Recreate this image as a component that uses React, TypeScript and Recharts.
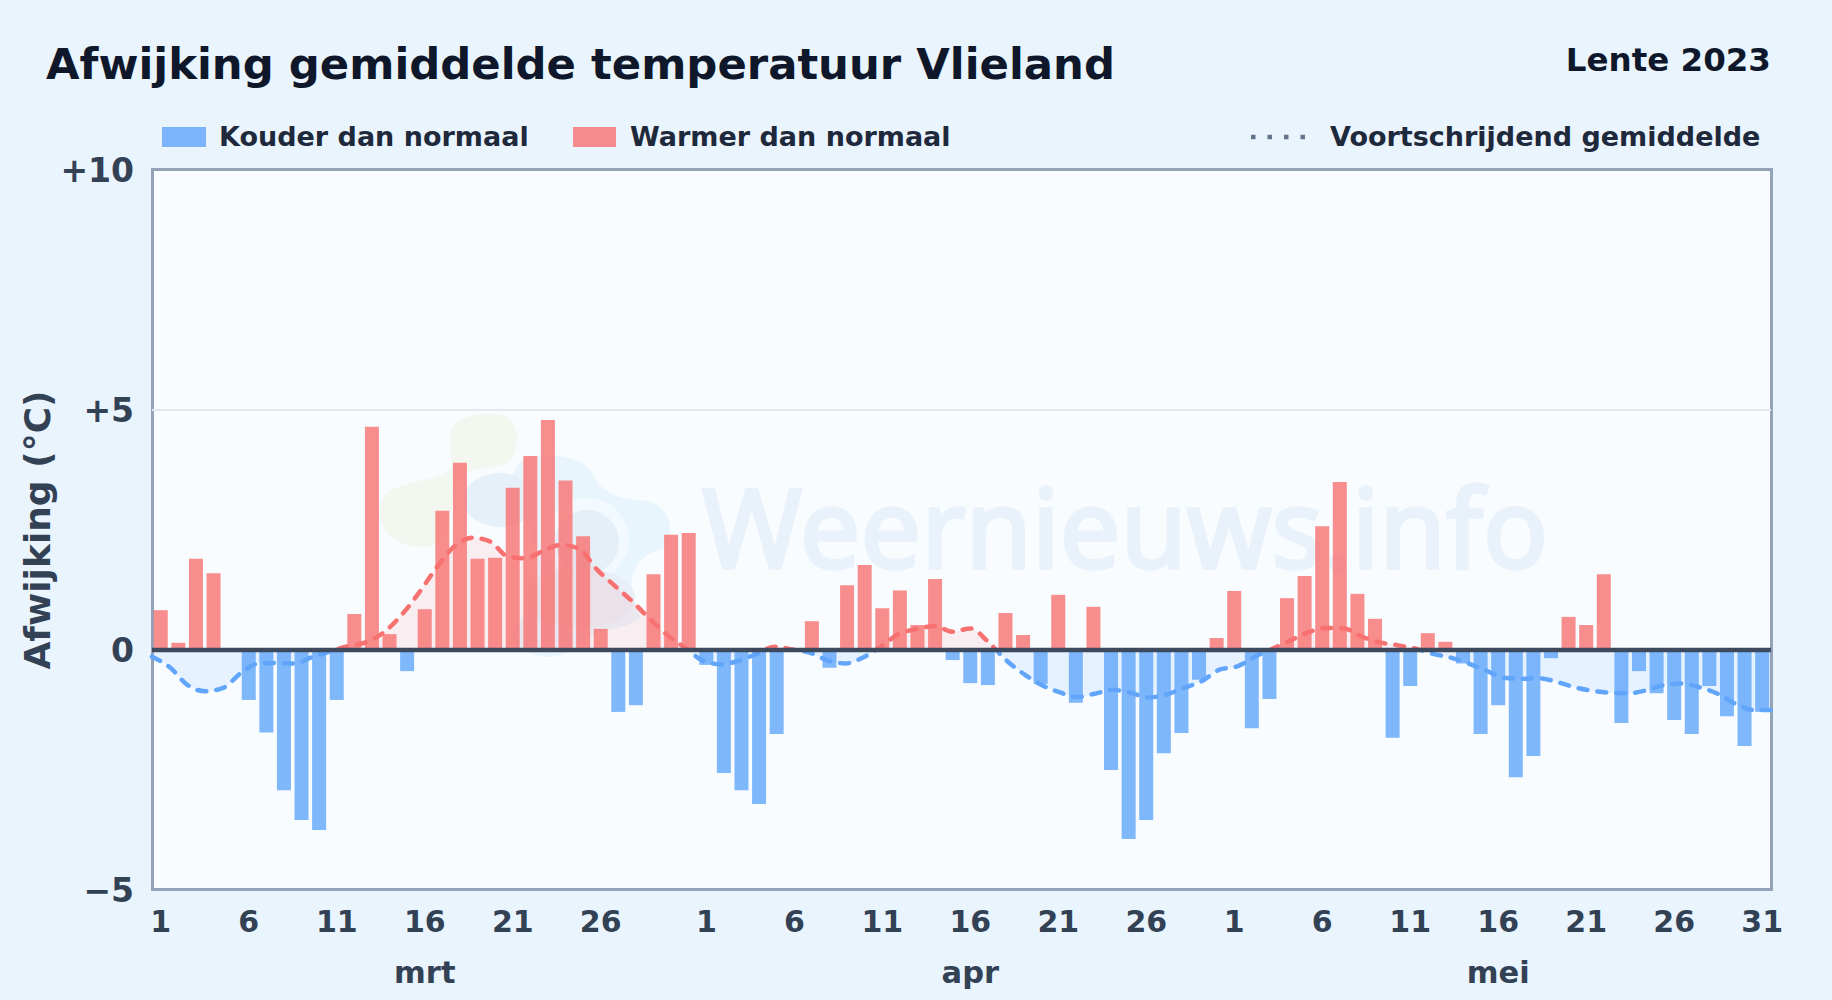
import {
  Area,
  Bar,
  CartesianGrid,
  Cell,
  ComposedChart,
  ReferenceLine,
  XAxis,
  YAxis,
} from 'recharts'

const monthNames = ['mrt', 'apr', 'mei']
const monthLengths = [31, 30, 31]

const afwijking = [
  0.83, 0.15, 1.9, 1.6, 0, -1.04, -1.72, -2.92, -3.54, -3.75, -1.04, 0.75, 4.65, 0.33, -0.44, 0.85,
  2.9, 3.9, 1.9, 1.92, 3.38, 4.04, 4.79, 3.53, 2.37, 0.44, -1.29, -1.15, 1.58, 2.4, 2.44,
  -0.31, -2.56, -2.92, -3.21, -1.75, 0, 0.6, -0.37, 1.35, 1.77, 0.87, 1.24, 0.52, 1.48, -0.21,
  -0.69, -0.73, 0.77, 0.31, -0.71, 1.15, -1.1, 0.9, -2.5, -3.94, -3.54, -2.15, -1.73, -0.62, 0.25,
  1.23, -1.63, -1.02, 1.08, 1.54, 2.58, 3.5, 1.17, 0.65, -1.83, -0.75, 0.35, 0.17, -0.28, -1.75,
  -1.15, -2.65, -2.21, -0.17, 0.69, 0.52, 1.58, -1.52, -0.44, -0.9, -1.46, -1.75, -0.75, -1.38, -2.0,
  -1.29,
]

const gemiddelde = [
  -0.14, -0.36, -0.73, -0.86, -0.79, -0.48, -0.28, -0.27, -0.28, -0.15, -0.03, 0.08, 0.16, 0.36, 0.72,
  1.19, 1.72, 2.16, 2.34, 2.26, 1.95, 1.91, 2.07, 2.19, 2.11, 1.68, 1.34, 1.01, 0.64, 0.3, 0.04,
  -0.23, -0.3, -0.22, -0.08, 0.07, 0.01, -0.06, -0.22, -0.28, -0.15, 0.08, 0.34, 0.44, 0.5, 0.38,
  0.45, 0.17, -0.21, -0.5, -0.73, -0.88, -0.98, -0.91, -0.83, -0.89, -0.99, -0.93, -0.79, -0.65, -0.41,
  -0.34, -0.14, 0.03, 0.2, 0.37, 0.46, 0.45, 0.28, 0.16, 0.1, 0.03, -0.08, -0.16, -0.28, -0.43,
  -0.58, -0.6, -0.59, -0.67, -0.78, -0.85, -0.89, -0.9, -0.84, -0.73, -0.7, -0.78, -0.91, -1.12, -1.25,
  -1.25,
]

const yTicks = [-5, 0, 5, 10]

type Point = { key: string; day: number; month: string; waarde: number; gem: number }

function buildData(): Point[] {
  const rows: Point[] = []
  monthLengths.forEach((len, m) => {
    for (let d = 1; d <= len; d++) {
      const i = rows.length
      rows.push({
        key: `${monthNames[m]}-${d}`,
        day: d,
        month: monthNames[m],
        waarde: afwijking[i],
        gem: gemiddelde[i],
      })
    }
  })
  return rows
}

const data = buildData()
// mrt 31 has no label in the original
const dayTicks = data
  .filter((p) => (p.day - 1) % 5 === 0 && p.key !== 'mrt-31')
  .map((p) => p.key)
const monthTicks = monthNames.map((m) => `${m}-16`)

const FONT = '"DejaVu Sans", sans-serif'
const BLUE = '#60a5fa'
const RED = '#f87171'

// where zero sits in the bounding box of the smoothed line
const gemMax = Math.max(...gemiddelde)
const gemMin = Math.min(...gemiddelde)
const zeroOffset = gemMax / (gemMax - gemMin)

function formatY(v: number): string {
  if (v > 0) return `+${v}`
  if (v < 0) return `\u2212${Math.abs(v)}`
  return '0'
}

function LegendRow() {
  const text = { fontSize: 27, fontWeight: 700, color: '#1e293b', position: 'absolute', top: 0, whiteSpace: 'nowrap' } as const
  return (
    <div style={{ position: 'absolute', left: 0, top: 117, width: 1832, height: 40, lineHeight: '40px' }}>
      <div style={{ position: 'absolute', left: 162, top: 10, width: 44, height: 20, background: BLUE, opacity: 0.8 }} />
      <span style={{ ...text, left: 219 }}>Kouder dan normaal</span>
      <div style={{ position: 'absolute', left: 573, top: 10, width: 43, height: 20, background: RED, opacity: 0.8 }} />
      <span style={{ ...text, left: 630 }}>Warmer dan normaal</span>
      <svg style={{ position: 'absolute', left: 1251, top: 0 }} width={60} height={40}>
        <line x1={0} x2={58} y1={20} y2={20} stroke="#64748b" strokeWidth={4.5} strokeDasharray="4.5 12" />
      </svg>
      <span style={{ ...text, left: 1330 }}>Voortschrijdend gemiddelde</span>
    </div>
  )
}

function Watermark() {
  return (
    <svg style={{ position: 'absolute', left: 0, top: 0 }} width={1832} height={1000}>
      <path
        d="M450 440 C446 418 480 410 505 416 C522 425 520 455 505 464 C490 470 470 468 458 476 C450 490 455 530 440 543 C420 552 395 545 385 530 C375 510 380 495 395 488 C420 478 445 480 452 465 Z"
        fill="#f2f8f0"
      />
      <path
        d="M520 462 C535 452 575 452 590 470 C600 490 612 498 640 500 C668 502 675 525 668 548 C650 550 632 562 632 582 C632 600 640 612 640 618 C625 630 605 628 590 636 C575 650 560 660 540 656 C515 652 505 640 520 620 C540 590 540 560 530 530 C515 500 505 480 520 462 Z"
        fill="#e9f5fd"
      />
      <ellipse cx={500} cy={500} rx={37} ry={27} fill="#e6f0f8" />
      <circle cx={587} cy={540} r={42} fill="#f3faff" />
      <circle cx={587} cy={542} r={32} fill="#e5eff8" />
      <ellipse cx={580} cy={598} rx={55} ry={30} fill="#e8eff8" />
      <text
        x={702}
        y={568}
        fontFamily='"Noto Sans", sans-serif'
        fontSize={110}
        textLength={846}
        lengthAdjust="spacingAndGlyphs"
        fill="#e9f2fa"
        stroke="#e9f2fa"
        strokeWidth={3.5}
      >
        Weernieuws.info
      </text>
    </svg>
  )
}

export default function App() {
  return (
    <div
      style={{
        position: 'absolute',
        left: 0,
        top: 0,
        width: 1832,
        height: 1000,
        overflow: 'hidden',
        background: '#e9f4fd',
        fontFamily: FONT,
      }}
    >
      <div style={{ position: 'absolute', left: 151, top: 168, width: 1622, height: 723, boxSizing: 'border-box', background: '#f8fcff', border: '3px solid #94a3b8' }} />
      <Watermark />
      <div style={{ position: 'absolute', left: 46, top: 39, fontSize: 43.35, fontWeight: 700, color: '#0f172a', whiteSpace: 'nowrap' }}>
        Afwijking gemiddelde temperatuur Vlieland
      </div>
      <div style={{ position: 'absolute', right: 61, top: 41, fontSize: 32.5, fontWeight: 700, color: '#0f172a', whiteSpace: 'nowrap' }}>
        Lente 2023
      </div>
      <LegendRow />
      <div style={{ position: 'absolute', left: 0, top: 0 }}>
        <ComposedChart
          width={1832}
          height={1000}
          data={data}
          margin={{ top: 170, right: 61, bottom: 0, left: 52 }}
          barCategoryGap="10%"
        >
          <defs>
            <linearGradient id="gemStroke" x1="0" y1="0" x2="0" y2="1">
              <stop offset={zeroOffset} stopColor={RED} />
              <stop offset={zeroOffset} stopColor={BLUE} />
            </linearGradient>
            <linearGradient id="gemFill" x1="0" y1="0" x2="0" y2="1">
              <stop offset={zeroOffset} stopColor={RED} stopOpacity={0.18} />
              <stop offset={zeroOffset} stopColor={BLUE} stopOpacity={0.2} />
            </linearGradient>
          </defs>
          <CartesianGrid vertical={false} horizontalValues={[5]} stroke="#e2e8f0" strokeWidth={2} />
          <XAxis
            dataKey="key"
            ticks={dayTicks}
            interval={0}
            tickFormatter={(k: string) => k.split('-')[1]}
            tick={{ fill: '#334155', fontSize: 30, fontWeight: 700 }}
            tickLine={false}
            axisLine={false}
            tickMargin={15}
            height={33}
          />
          <XAxis
            xAxisId="maand"
            dataKey="key"
            ticks={monthTicks}
            interval={0}
            tickFormatter={(k: string) => k.split('-')[0]}
            tick={{ fill: '#334155', fontSize: 30.5, fontWeight: 700 }}
            tickLine={false}
            axisLine={false}
            height={77}
          />
          <XAxis xAxisId="lijn" dataKey="key" scale="point" padding={{ left: 0, right: 0 }} hide />
          <YAxis
            domain={[-5, 10]}
            ticks={yTicks}
            tickFormatter={formatY}
            tick={{ fill: '#334155', fontSize: 33, fontWeight: 700 }}
            tickLine={false}
            axisLine={false}
            tickMargin={12}
            width={100}
            label={{
              value: 'Afwijking (°C)',
              angle: -90,
              position: 'insideLeft',
              offset: -15,
              style: { fill: '#334155', fontSize: 36, fontWeight: 700, textAnchor: 'middle' },
            }}
          />
          <Bar dataKey="waarde" isAnimationActive={false}>
            {data.map((p) => (
              <Cell key={p.key} fill={p.waarde < 0 ? BLUE : RED} fillOpacity={0.8} />
            ))}
          </Bar>
          <Area
            xAxisId="lijn"
            type="monotone"
            dataKey="gem"
            stroke="url(#gemStroke)"
            strokeWidth={4.5}
            strokeDasharray="9 10"
            strokeLinecap="round"
            fill="url(#gemFill)"
            dot={false}
            activeDot={false}
            isAnimationActive={false}
          />
          <ReferenceLine y={0} stroke="#3d4a5e" strokeWidth={4.5} />
        </ComposedChart>
      </div>
    </div>
  )
}
